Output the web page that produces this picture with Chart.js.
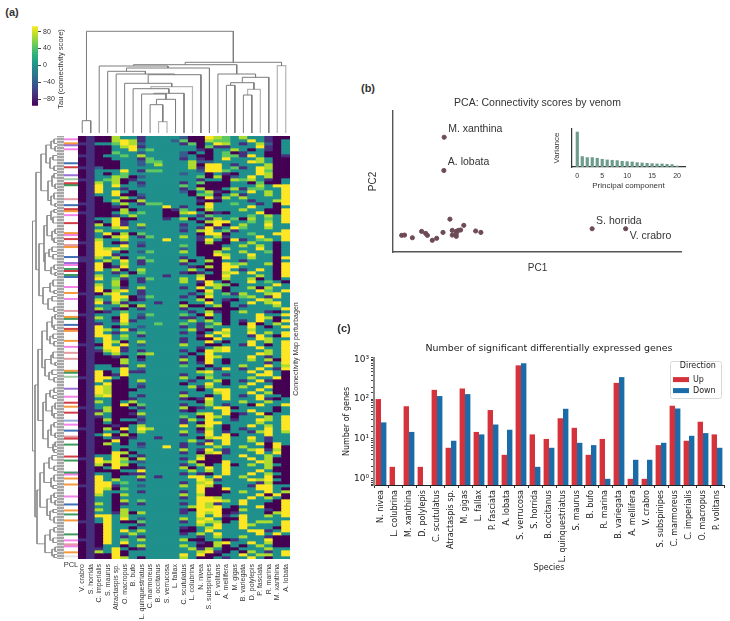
<!DOCTYPE html>
<html>
<head>
<meta charset="utf-8">
<title>Venom connectivity figure</title>
<script src="https://cdn.jsdelivr.net/npm/chart.js@4/dist/chart.umd.min.js"></script>
<style>
    body { margin: 0; background: #fff; width: 730px; height: 621px; overflow: hidden; position: relative; }
    canvas { position: absolute; }
    .label { position: absolute; white-space: nowrap; font-family: "Liberation Sans", sans-serif; color: #333; }
</style>
</head>
<body>
<script>
// (a) heatmap
const heatSpecies = ['V. crabro', 'S. horrida', 'C. imperialis', 'S. maurus', 'Atractaspis sp.', 'O. macropus', 'B. bufo',
    'L. quinquestriatus', 'C. marmoreus', 'B. occitanus', 'S. verrucosa', 'L. fallax', 'C. scutulatus', 'L. colubrina',
    'N. nivea', 'S. subspinipes', 'P. volitans', 'A. mellifera', 'M. gigas', 'B. variegata', 'D. polylepis', 'P. fasciata',
    'R. marina', 'M. xanthina', 'A. lobata'];
const tauLevels = [-90, -60, -30, 0, 40, 65, 90];
// one string per perturbagen, one digit per species, digit = index into tauLevels
const heatRows = [
    '01 00533 13333 20065 43533 100', '01 00565 13332 40054 43363 103', '11 33465 23333 14036 53135 203',
    '01 00356 13333 33041 13336 103', '01 00336 34333 33103 35303 103', '01 00433 23333 20303 40133 003',
    '11 03343 53333 23003 44163 001', '01 00333 14333 13103 63335 300', '01 00033 24433 35223 33365 300',
    '01 00033 23533 35066 31333 500', '11 20033 33333 35166 34136 500', '01 33363 14433 33266 43336 400',
    '01 30343 33333 23303 10336 500', '01 33540 23333 33405 02363 500', '11 34501 33333 33133 05453 103',
    '01 53503 13333 13400 03304 003', '01 63633 23333 43000 03335 366', '01 63313 33333 13500 35144 336',
    '01 63630 33333 20351 03363 536', '01 33600 23333 30440 35133 536', '01 03353 13333 33061 53533 336',
    '01 03500 53333 33100 33313 356', '11 00353 14433 33063 34331 306', '01 00103 33363 13363 33363 303',
    '01 00050 33301 43053 33533 006', '11 00353 43300 56301 03336 006', '01 00135 33300 33143 33343 536',
    '01 33600 33313 50315 34053 436', '01 03613 33333 33056 63343 536', '01 50613 53333 13306 03533 633',
    '01 33563 23333 23161 36433 533', '01 53333 33333 13563 41333 336', '01 36050 43333 33066 03343 366',
    '01 30563 14333 53135 13336 336', '01 53353 33363 33163 06134 536', '11 63013 23333 33050 03353 303',
    '01 63363 13333 43000 33535 303', '01 65643 33333 23000 53336 303', '01 66303 24333 53005 33533 403',
    '01 66133 33333 33006 53363 303', '11 53503 43333 13300 63353 306', '11 35363 14333 50350 33133 303',
    '01 60353 13333 13300 64533 506', '01 60163 33333 31050 66333 306', '01 63503 53333 35300 63136 306',
    '01 33130 43333 10130 56363 306', '01 53353 33313 33500 63335 306', '01 63413 14333 53600 53350 303',
    '01 33503 13333 53163 03363 430', '01 53503 33333 33065 40333 363', '01 63413 53333 13635 03350 533',
    '01 60563 13333 33063 03336 436', '11 05633 13333 31353 41533 563', '01 33660 24333 13063 33453 163',
    '01 53640 13333 33503 10336 533', '01 61513 33133 03363 03363 563', '01 33350 53333 50035 03133 353',
    '01 53103 13333 13300 00333 336', '01 01343 33333 31351 03533 103', '11 33363 24333 43063 03336 336',
    '01 53063 13333 11303 03336 503', '01 33161 33333 35353 03136 306', '01 13353 33433 43135 03060 353',
    '01 63033 23333 13143 33363 036', '01 65361 33333 35103 63353 333', '01 63133 43333 13036 53363 536',
    '01 66353 13333 33163 63316 306', '01 36343 33333 13006 33336 533', '01 36503 53333 13363 03363 536',
    '11 06363 23333 53300 33163 036', '01 36613 33333 33135 63336 336', '01 15613 13333 13065 63333 536',
    '01 03533 45333 30363 33336 536', '01 00103 03333 13065 33363 136', '01 00053 13333 53063 03353 506',
    '01 00053 33333 13163 03333 136', '01 33013 53333 43303 33533 635', '01 33363 23333 33031 63136 316',
    '01 60361 13333 33563 33363 630', '01 60163 33333 13343 13336 630', '11 66303 33333 53053 33353 360',
    '01 63003 53333 31335 03136 100', '01 36003 23333 03363 03363 300', '01 65003 13333 35153 33533 600',
    '01 65000 33333 33036 63336 300', '01 65003 33333 13335 63363 500', '01 56003 13333 53303 63136 330',
    '01 33001 33333 10163 63336 103', '01 53035 33333 33053 33533 533', '01 33060 43333 13353 13306 336',
    '11 35003 13333 50136 60333 303', '01 15000 33333 10333 63363 303', '01 53001 53333 33563 60136 033',
    '01 13000 23333 43065 30333 536', '01 05033 13333 15363 31336 536', '01 03000 23333 13066 33335 336',
    '01 00103 53333 63563 03363 536', '11 05063 65333 33053 03133 636', '01 03303 53333 53163 13315 635',
    '01 36050 33333 13363 60333 633', '01 03101 33133 33056 63363 133', '01 00603 33333 35313 63353 133',
    '01 05303 13333 13163 63336 063', '01 00333 23363 13335 33533 060', '01 00303 33333 53163 13356 150',
    '01 00650 33333 13056 13336 360', '01 33603 13333 33500 33633 530', '11 63650 53333 13600 33363 500',
    '01 65643 23333 35000 63336 500', '01 50650 33333 13503 60353 530', '01 03600 13333 50363 63333 500',
    '01 00033 63333 35353 63336 300', '01 33001 13333 13103 63363 530', '01 63033 53133 36636 33533 600',
    '01 63533 13333 33651 33365 630', '01 66343 33333 13563 33331 500', '11 66133 23333 53650 33316 633',
    '01 65043 33333 33600 63336 630', '01 63333 13333 13600 03533 635', '01 53053 33333 53500 33336 060',
    '01 33033 33333 13665 33363 530', '01 33053 43333 33666 53633 306', '01 53013 13333 13651 33633 006',
    '01 33033 33333 35656 30336 006', '01 53053 33333 10666 00533 106', '01 33150 53333 13656 01333 056',
    '01 66353 33333 33636 13633 536', '01 36363 23333 53563 00633 333', '11 36300 43333 13655 03635 536',
    '01 06333 13333 33536 33653 336', '01 06330 33333 10356 33633 306', '01 06363 53333 00363 33366 136',
    '01 06335 33333 13536 33336 363', '01 06313 13333 33135 33533 100', '11 06343 53333 50033 01333 600',
    '01 06363 33333 33105 63363 500', '01 03303 53333 53005 03035 300', '01 13630 13333 35153 00333 533',
    '01 53603 33333 33561 03053 136', '01 00603 33333 63600 33635 536', '01 00653 03333 53003 13363 033'
];
// PCL classes: the strip has finer rows than the heatmap, these are the rows that carry a class
const pclRowCount = 212;
const pclRowIndex = [1, 3, 4, 6, 13, 15, 19, 21, 23, 24, 31, 34, 36, 37, 39, 43, 48, 49, 51, 54, 55, 60, 63, 64, 66, 67, 69, 70,
    75, 78, 81, 87, 90, 91, 94, 96, 97, 102, 105, 108, 111, 117, 118, 120, 126, 130, 133, 135, 138, 142, 144, 147,
    150, 151, 154, 160, 162, 168, 169, 171, 174, 180, 184, 187, 189, 192, 199, 202, 204, 205, 208, 210];
const pclClass = 'povpbrvlrgsbropropr' + 'sobvpgrgb' + 'popsogbroopssoglvprorkp' + 'bsrgrggpoopbogogpspo';
const pclColors = { p: '#f184e6', o: '#f59a3c', v: '#9a6fd6', b: '#3f6fb5', r: '#cf3f45', g: '#3f9a5f', l: '#a0cba4', s: '#e39aa2', k: '#93a9d8' };

// column dendrogram: [left, right, height], index below 25 is a species, above it is merge (index - 25)
const columnMerges = [[0, 1, 12.3], [9, 10, 11.3], [8, 26, 28.3], [27, 11, 33.7], [7, 28, 39], [29, 12, 39.7], [6, 30, 44.3],
    [31, 13, 46.3], [5, 32, 49.7], [33, 14, 58.3], [4, 34, 59], [3, 35, 61.7], [36, 15, 65], [2, 37, 67], [17, 18, 47.7],
    [19, 20, 38], [40, 21, 43.7], [39, 41, 50.3], [42, 22, 55.7], [16, 43, 59], [38, 44, 68.3], [23, 24, 67.3], [45, 46, 70.7],
    [25, 47, 101.7]];
const columnLightMerges = [1, 21, 16, 7];
// row dendrogram: [depth, upper, lower], a plain number is that many perturbagen rows
const rowTree = [24.5,
    [21,
        [16,
            [11, [6, [3, 2, 1], [2, 1, 2]], [7, [4, 1, 2], [3, 2, 1]]],
            [9, [5, [3, 1, 2], [2, 2, 1]], [6, [3, 2, 2], [2, 1, 1]]]],
        [18,
            [13,
                [10, [6, [3, 1, 1], [4, 2, 2]], [5, [2, 2, 1], [3, 2, 1]]],
                [12, [8, [5, 2, 1], [4, 1, 2]], [6, [3, 2, 1], [2, 1, 1]]]],
            [14, [7, [4, 2, 2], [3, 1, 1]], [9, [5, 1, 2], [3, 2, 1]]]]],
    [22,
        [19,
            [15,
                [10, [5, [2, 1, 2], [3, 2, 1]], [7, [4, 2, 1], [3, 1, 2]]],
                [12, [6, [4, 2, 2], [2, 1, 1]], [8, [5, 2, 1], [3, 1, 2]]]],
            [14,
                [11, [7, [3, 2, 1], [4, 1, 1]], [5, [2, 2, 2], [3, 1, 2]]],
                [9, [6, [3, 1, 2], [2, 2, 1]], [4, [2, 2, 1], [3, 1, 1]]]]],
        [20,
            [17,
                [13, [8, [5, 1, 2], [3, 2, 1]], [6, [3, 2, 2], [4, 1, 1]]],
                [10, [6, [3, 2, 1], [2, 1, 2]], [7, [4, 1, 1], [3, 2, 2]]]],
            [12, [7, [3, 1, 2], [4, 2, 1]], [5, [2, 2, 1], [3, 1, 1]]]]]];

// (b) PCA
const pcaNames = ['M. xanthina', 'A. lobata', 'S. horrida', 'V. crabro'];
const pc1Values = [17.7, 17.6, 68.9, 80.5, 19.7, 24.5, 3.0, 4.0, 6.7, 9.9, 11.3, 11.9, 13.6, 15.1, 17.3, 20.5, 20.5, 21.9, 21.9, 22.6, 23.4, 21.9, 28.6, 30.4];
const pc2Values = [81.4, 57.8, 16.5, 16.5, 23.3, 18.9, 11.8, 12.0, 10.1, 14.6, 13.2, 11.8, 8.3, 9.7, 13.9, 15.3, 12.0, 11.1, 14.6, 15.3, 15.6, 13.0, 14.9, 13.9];
const varianceValues = [105, 32, 29, 29, 27, 24, 22, 21, 20, 18, 17, 16, 14, 13, 12, 11, 10, 10, 9, 8, 4];

// (c) differentially expressed genes
const degSpecies = ['N. nivea', 'L. colubrina', 'M. xanthina', 'D. polylepis', 'C. scutulatus', 'Atractaspis sp.', 'M. gigas', 'L. fallax',
    'P. fasciata', 'A. lobata', 'S. verrucosa', 'S. horrida', 'B. occitanus', 'L. quinquestriatus', 'S. maurus', 'B. bufo', 'R. marina',
    'B. variegata', 'A. mellifera', 'V. crabro', 'S. subspinipes', 'C. marmoreus', 'C. imperialis', 'O. macropus', 'P. volitans'];
const degUp = [100, 2, 66, 2, 170, 6, 184, 15, 53, 4, 700, 13, 10, 33, 19, 4, 10, 255, 1, 1, 7, 68, 9, 27, 13];
const degDown = [26, null, 15, null, 119, 9, 133, 13, 23, 17, 790, 2, 6, 57, 8, 7, 1, 355, 3, 3, 8, 58, 12, 14, 6];

const viridis = ['#440154', '#482878', '#3e4989', '#31688e', '#26828e', '#1f9e89', '#35b779', '#6ece58', '#b5de2b', '#fde725'];
const levelColors = ['#440154', '#46307e', '#365c8d', '#20908d', '#5ec962', '#addc30', '#fde725'];

const SANS = '"Liberation Sans", sans-serif';
const DEJAVU = '"DejaVu Sans", sans-serif';

Chart.defaults.animation = false;
Chart.defaults.responsive = false;
Chart.defaults.plugins.legend.display = false;
Chart.defaults.plugins.tooltip.enabled = false;
Chart.defaults.color = '#333';
Chart.defaults.layout.autoPadding = false;

function addCanvas(left, top, width, height) {
    const canvas = document.createElement('canvas');
    canvas.width = width;
    canvas.height = height;
    canvas.style.left = left + 'px';
    canvas.style.top = top + 'px';
    document.body.appendChild(canvas);
    return canvas;
}

function addLabel(text, x, y, font, rotate) {
    const el = document.createElement('div');
    el.className = 'label';
    el.textContent = text;
    el.style.font = font;
    el.style.left = x + 'px';
    el.style.top = y + 'px';
    el.style.transform = `translate(-50%, -50%)${rotate ? ' rotate(-90deg)' : ''}`;
    document.body.appendChild(el);
}

// fixes the space an axis takes, so the plot area lands where it should
const fixHeight = h => scale => { scale.height = h; };
const fixWidth = w => scale => { scale.width = w; };

function columnSegments(keep) {
    const nodes = [];
    const points = [];
    const pos = i => (i < 25 ? { x: i + 0.5, y: 0 } : nodes[i - 25]);
    columnMerges.forEach((merge, k) => {
        const a = pos(merge[0]);
        const b = pos(merge[1]);
        if (keep(k)) {
            points.push({ x: a.x, y: a.y }, { x: a.x, y: merge[2] }, { x: b.x, y: merge[2] }, { x: b.x, y: b.y }, { x: NaN, y: NaN });
        }
        nodes.push({ x: (a.x + b.x) / 2, y: merge[2] });
    });
    return points;
}

function rowSegments(node, cursor, points) {
    if (typeof node === 'number') {
        const y = cursor.row + node / 2;
        cursor.row += node;
        return { x: 0, y: y };
    }
    const a = rowSegments(node[1], cursor, points);
    const b = rowSegments(node[2], cursor, points);
    points.push({ x: a.x, y: a.y }, { x: node[0], y: a.y }, { x: node[0], y: b.y }, { x: b.x, y: b.y }, { x: NaN, y: NaN });
    return { x: node[0], y: (a.y + b.y) / 2 };
}

const rowCount = heatRows.length;
const rowLevels = heatRows.map(r => r.replace(/ /g, '').split('').map(Number));

// colour bar
new Chart(addCanvas(32, 20, 36, 92), {
    type: 'bar',
    data: {
        labels: [''],
        datasets: [{
            data: [[-96, 93]],
            barPercentage: 1,
            categoryPercentage: 1,
            backgroundColor: context => {
                const area = context.chart.chartArea;
                if (!area) return viridis[0];
                const gradient = context.chart.ctx.createLinearGradient(0, area.bottom, 0, area.top);
                viridis.forEach((c, i) => gradient.addColorStop(i / (viridis.length - 1), c));
                return gradient;
            }
        }]
    },
    options: {
        layout: { padding: { top: 6, bottom: 1.3 } },
        scales: {
            x: { display: false },
            y: {
                position: 'right', min: -96, max: 93, afterFit: fixWidth(30),
                grid: { drawOnChartArea: false, tickLength: 3, color: '#444' },
                border: { display: false },
                ticks: {
                    stepSize: 40, includeBounds: false, padding: 2, color: '#333',
                    font: { family: SANS, size: 7 },
                    callback: v => String(v).replace('-', '\u2212')
                }
            }
        }
    }
});

// column dendrogram
new Chart(addCanvas(78, 28, 212, 105), {
    type: 'scatter',
    data: {
        datasets: [
            { data: columnSegments(k => !columnLightMerges.includes(k)), showLine: true, borderColor: '#7c7c7c', borderWidth: 1, pointRadius: 0 },
            { data: columnSegments(k => columnLightMerges.includes(k)), showLine: true, borderColor: '#b4b4b4', borderWidth: 1.2, pointRadius: 0 }
        ]
    },
    options: {
        scales: {
            x: { display: false, min: 0, max: 25 },
            y: { display: false, min: 0, max: 105 }
        }
    }
});

// row dendrogram, its ticks make the grey band next to the PCL strip
const rowPoints = [];
rowSegments(rowTree, { row: 0 }, rowPoints);
new Chart(addCanvas(32, 136, 32, 423), {
    type: 'scatter',
    data: { datasets: [{ data: rowPoints, showLine: true, borderColor: '#8a8a8a', borderWidth: 0.9, pointRadius: 0 }] },
    options: {
        scales: {
            x: { display: false, min: 0, max: 25, reverse: true },
            y: {
                position: 'right', min: 0, max: rowCount, reverse: true, afterFit: fixWidth(7),
                grid: { drawOnChartArea: false, tickLength: 7, color: '#a6a6a6', lineWidth: 2.4 },
                border: { display: false },
                ticks: { display: false, stepSize: 1, autoSkip: false }
            }
        }
    }
});

// PCL strip, side padding is wider than half the tick label so the label cannot squeeze the strip
const pclCells = new Array(pclRowCount).fill('#ffffff');
pclRowIndex.forEach((row, i) => { pclCells[row] = pclColors[pclClass[i]]; });
new Chart(addCanvas(54, 136, 34, 440), {
    type: 'bar',
    data: {
        labels: ['PCL'],
        datasets: pclCells.map(color => ({ data: [1], backgroundColor: color, stack: 'pcl', barPercentage: 1, categoryPercentage: 1 }))
    },
    options: {
        layout: { padding: { left: 10, right: 10 } },
        scales: {
            x: {
                stacked: true, afterFit: fixHeight(17),
                grid: { display: false, drawTicks: false }, border: { display: false },
                ticks: { padding: 1, color: '#333', font: { family: SANS, size: 7.5 } }
            },
            y: { display: false, stacked: true, min: 0, max: pclRowCount, reverse: true }
        }
    }
});

// heatmap, one stacked dataset per row
new Chart(addCanvas(68, 136, 232, 485), {
    type: 'bar',
    data: {
        labels: heatSpecies,
        datasets: rowLevels.map(levels => ({
            data: levels.map(() => 1),
            backgroundColor: levels.map(l => levelColors[l]),
            stack: 'heat',
            barPercentage: 1,
            categoryPercentage: 1
        }))
    },
    options: {
        layout: { padding: { left: 10, right: 10 } },
        scales: {
            x: {
                stacked: true, afterFit: fixHeight(62),
                grid: { display: false, drawTicks: false }, border: { display: false },
                ticks: { autoSkip: false, minRotation: 90, maxRotation: 90, padding: 5, color: '#333', font: { family: SANS, size: 7 } }
            },
            y: { display: false, stacked: true, min: 0, max: rowCount, reverse: true }
        }
    }
});

// PCA scatter
const pcaLabelOffsets = [[4, -8], [4, -8], [4, -8], [4, 7]];
const pcaLabels = {
    id: 'pcaLabels',
    afterDatasetsDraw(chart) {
        const { ctx, scales } = chart;
        ctx.save();
        ctx.font = `10.5px ${SANS}`;
        ctx.fillStyle = '#333';
        ctx.textBaseline = 'middle';
        pcaNames.forEach((name, i) => {
            ctx.fillText(name, scales.x.getPixelForValue(pc1Values[i]) + pcaLabelOffsets[i][0], scales.y.getPixelForValue(pc2Values[i]) + pcaLabelOffsets[i][1]);
        });
        ctx.restore();
    }
};
new Chart(addCanvas(367, 96, 315, 180), {
    type: 'scatter',
    data: {
        datasets: [{
            data: pc1Values.map((x, i) => ({ x: x, y: pc2Values[i] })),
            backgroundColor: '#6d4a57',
            borderColor: '#6d4a57',
            pointRadius: 2.1
        }]
    },
    options: {
        plugins: {
            title: {
                display: true, text: 'PCA: Connectivity scores by venom', fullSize: false,
                color: '#333', font: { family: SANS, size: 10.5, weight: 'normal' },
                padding: { top: 0.7, bottom: 1.7 }
            }
        },
        scales: {
            x: {
                min: 0, max: 100, afterFit: fixHeight(24),
                grid: { display: false }, border: { color: '#555', width: 1.4 },
                ticks: { display: false },
                title: { display: true, text: 'PC1', color: '#333', font: { family: SANS, size: 10 }, padding: { top: 0, bottom: 2 } }
            },
            y: {
                min: 0, max: 100, afterFit: fixWidth(26),
                grid: { display: false }, border: { color: '#555', width: 1.4 },
                ticks: { display: false },
                title: { display: true, text: 'PC2', color: '#333', font: { family: SANS, size: 10 }, padding: { top: 0, bottom: 2 } }
            }
        }
    },
    plugins: [pcaLabels]
});

// PCA inset, variance per component
new Chart(addCanvas(552, 125, 138, 68), {
    type: 'bar',
    data: {
        datasets: [{
            data: varianceValues.map((v, i) => ({ x: i, y: v })),
            backgroundColor: '#6e9c8c',
            barPercentage: 0.8,
            categoryPercentage: 0.8
        }]
    },
    options: {
        layout: { padding: { top: 4, right: 5 } },
        scales: {
            x: {
                type: 'linear', min: -1.06, max: 21.6, offset: false, afterFit: fixHeight(26),
                grid: { display: false, drawTicks: false }, border: { color: '#333', width: 1.2 },
                ticks: { stepSize: 5, includeBounds: false, padding: 5, color: '#333', font: { family: SANS, size: 7 } },
                title: { display: true, text: 'Principal component', color: '#333', font: { family: SANS, size: 8 }, padding: { top: 0, bottom: 2 } }
            },
            y: {
                min: 0, max: 113, afterFit: fixWidth(20),
                grid: { display: false }, border: { color: '#333', width: 1.2 },
                ticks: { display: false },
                title: { display: true, text: 'Variance', color: '#333', font: { family: SANS, size: 8 }, padding: { top: 0, bottom: 2 } }
            }
        }
    }
});

// (c) moves the library's legend to its spot and puts the frame behind it
const legendFrame = {
    id: 'legendFrame',
    beforeDraw(chart) {
        const { ctx, legend } = chart;
        legend.left = 670 - 342;
        legend.right = legend.left + 51;
        legend.top = 361 - 342;
        legend.bottom = chart.height;
        ctx.save();
        ctx.strokeStyle = '#d8d8d8';
        ctx.lineWidth = 1;
        ctx.beginPath();
        ctx.roundRect(legend.left + 0.5, legend.top + 0.5, 51, 37, 2);
        ctx.stroke();
        ctx.restore();
    }
};
const powerLabels = { 1: '10\u2070', 10: '10\u00b9', 100: '10\u00b2', 1000: '10\u00b3' };
new Chart(addCanvas(342, 342, 388, 233), {
    type: 'bar',
    data: {
        labels: degSpecies,
        datasets: [
            { label: 'Up', data: degUp, backgroundColor: '#d6323c', barPercentage: 1, categoryPercentage: 0.77 },
            { label: 'Down', data: degDown, backgroundColor: '#1a6ca8', barPercentage: 1, categoryPercentage: 0.77 }
        ]
    },
    options: {
        layout: { padding: { right: 6 } },
        plugins: {
            title: {
                display: true, text: 'Number of significant differentially expressed genes', fullSize: false,
                color: '#222', font: { family: DEJAVU, size: 9.45, weight: 'normal' },
                padding: { top: 1.3, bottom: 3.36 }
            },
            legend: {
                display: true,
                position: 'chartArea',
                align: 'start',
                title: { display: true, text: 'Direction', color: '#222', font: { family: DEJAVU, size: 8 }, padding: 1 },
                labels: { boxWidth: 16, boxHeight: 5, padding: 3, color: '#222', font: { family: DEJAVU, size: 8 } }
            }
        },
        scales: {
            x: {
                afterFit: fixHeight(90),
                grid: { display: true, drawOnChartArea: false, tickLength: 3, color: '#333' },
                border: { color: '#222', width: 1 },
                ticks: { autoSkip: false, minRotation: 90, maxRotation: 90, padding: 2, color: '#222', font: { family: DEJAVU, size: 8 } },
                title: { display: true, text: 'Species', color: '#222', font: { family: DEJAVU, size: 8 }, padding: { top: 0, bottom: 2 } }
            },
            y: {
                type: 'logarithmic', min: 0.72, max: 1070, afterFit: fixWidth(32),
                grid: { drawOnChartArea: false, tickLength: 3, color: '#444' },
                border: { color: '#8a8a8a', width: 2 },
                ticks: {
                    autoSkip: false, padding: 2, color: '#222', font: { family: DEJAVU, size: 9 },
                    callback: v => powerLabels[v] || ''
                },
                title: { display: true, text: 'Number of genes', color: '#222', font: { family: DEJAVU, size: 8 }, padding: { top: 0, bottom: 1 } }
            }
        }
    },
    plugins: [legendFrame]
});

addLabel('Tau (connectivity score)', 60, 69, `7.6px ${SANS}`, true);
addLabel('Connectivity Map perturbagen', 295, 348.5, `7px ${SANS}`, true);
addLabel('(a)', 12, 12, `bold 11px ${SANS}`);
addLabel('(b)', 368, 88, `bold 11px ${SANS}`);
addLabel('(c)', 344, 328, `bold 11px ${SANS}`);
</script>
</body>
</html>
